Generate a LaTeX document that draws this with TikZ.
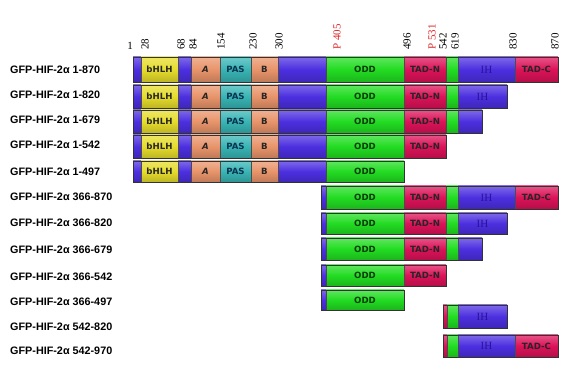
\documentclass[tikz,border=0pt]{standalone}
\usepackage{fontspec}
\setmainfont{Liberation Serif}
\newfontfamily\lblfont{Liberation Sans}
\newfontfamily\segfont{DejaVu Sans}
\definecolor{cblue}{HTML}{4C2FE0}
\definecolor{cyel}{HTML}{E6DC2C}
\definecolor{csal}{HTML}{E8946A}
\definecolor{cteal}{HTML}{38B4B4}
\definecolor{cgreen}{HTML}{22DC22}
\definecolor{cred}{HTML}{DC1258}
\definecolor{ctick}{HTML}{E02828}
\tikzset{
  seg/.style={draw=black!70, line width=0.4pt, top color=#1!72!white, bottom color=#1!82!black, middle color=#1},
  seglab/.style={font=\segfont\bfseries\fontsize{8.6}{8.6}\selectfont, inner sep=0pt, text=black!85},
  ihlab/.style={font=\fontsize{11}{11}\selectfont, text={rgb,255:red,40;green,20;blue,150}},
  rowlab/.style={font=\lblfont\bfseries\fontsize{10.8}{12}\selectfont, anchor=west, inner sep=0pt},
  ticklab/.style={font=\fontsize{11}{11}\selectfont, rotate=90, anchor=west, inner sep=0pt},
  rowline/.style={draw=black!80, line width=0.7pt},
}
\newcommand\sg[5]{%
  \path[seg=#3] (#1,\rt) rectangle (#2,\rb);
  \node[seglab,#5] at ({(#1+#2)/2},{(\rt+\rb)/2}) {#4};}
\newcommand\partN{%
  \sg{133}{141}{cblue}{}{}
  \sg{141}{178}{cyel}{bHLH}{}
  \sg{178}{191}{cblue}{}{}
  \sg{191}{220}{csal}{\itshape A}{}
  \sg{220}{251}{cteal}{PAS}{text={rgb,255:red,10;green,50;blue,80}}
  \sg{251}{278}{csal}{B}{}
  \sg{278}{326}{cblue}{}{}}
\newcommand\partODD{\sg{326}{404}{cgreen}{ODD}{text={rgb,255:red,10;green,60;blue,10}}}
\newcommand\partTADN{\sg{404}{446}{cred}{TAD-N}{}}
\newcommand\partG{\sg{446}{458}{cgreen}{}{}}
\newcommand\partIHf{\sg{458}{515}{cblue}{IH}{ihlab}}
\newcommand\partIHs{\sg{458}{507}{cblue}{IH}{ihlab}}
\newcommand\partTADC{\sg{515}{558}{cred}{TAD-C}{}}
\newcommand\partS{\sg{321}{326}{cblue}{}{}}
\begin{document}
\begin{tikzpicture}[x=1pt,y=-1pt]
\useasboundingbox (0,0) rectangle (566,366);
\fill[white] (0,0) rectangle (566,366);
% tick labels
\node[font=\fontsize{11}{11}\selectfont, anchor=south, inner sep=0pt] (t1) at (130,50) {1};
\node[ticklab] (t28) at (145,50) {28};
\node[ticklab] (t68) at (181,50) {68};
\node[ticklab] (t84) at (193,50) {84};
\node[ticklab] (t154) at (221,50) {154};
\node[ticklab] (t230) at (253,50) {230};
\node[ticklab] (t300) at (279,50) {300};
\node[ticklab,text=ctick] (t405) at (337,50) {P 405};
\node[ticklab] (t496) at (407,50) {496};
\node[ticklab,text=ctick] (t531) at (432,50) {P 531};
\node[ticklab] (t542) at (443,50) {542};
\node[ticklab] (t619) at (455,50) {619};
\node[ticklab] (t830) at (513,50) {830};
\node[ticklab] (t870) at (555,50) {870};
% row labels
\node[rowlab] (l1) at (10,70) {GFP-HIF-2α 1-870};
\node[rowlab] (l2) at (10,95) {GFP-HIF-2α 1-820};
\node[rowlab] (l3) at (10,120) {GFP-HIF-2α 1-679};
\node[rowlab] (l4) at (10,145) {GFP-HIF-2α 1-542};
\node[rowlab] (l5) at (10,172) {GFP-HIF-2α 1-497};
\node[rowlab] (l6) at (10,197) {GFP-HIF-2α 366-870};
\node[rowlab] (l7) at (10,223) {GFP-HIF-2α 366-820};
\node[rowlab] (l8) at (10,250) {GFP-HIF-2α 366-679};
\node[rowlab] (l9) at (10,277) {GFP-HIF-2α 366-542};
\node[rowlab] (l10) at (10,302) {GFP-HIF-2α 366-497};
\node[rowlab] (l11) at (10,327) {GFP-HIF-2α 542-820};
\node[rowlab] (l12) at (10,351) {GFP-HIF-2α 542-970};
% row 1
\def\rt{57}\def\rb{82}
\partN\partODD\partTADN\partG\partIHf\partTADC
\draw[rowline] (133,\rt) rectangle (558,\rb);
% row 2
\def\rt{85}\def\rb{108}
\partN\partODD\partTADN\partG\partIHs
\draw[rowline] (133,\rt) rectangle (507,\rb);
% row 3
\def\rt{110}\def\rb{133}
\partN\partODD\partTADN\partG\sg{458}{482}{cblue}{}{}
\draw[rowline] (133,\rt) rectangle (482,\rb);
% row 4
\def\rt{135}\def\rb{158}
\partN\partODD\partTADN
\draw[rowline] (133,\rt) rectangle (446,\rb);
% row 5
\def\rt{161}\def\rb{182}
\partN\partODD
\draw[rowline] (133,\rt) rectangle (404,\rb);
% row 6
\def\rt{186}\def\rb{209}
\partS\partODD\partTADN\partG\partIHf\partTADC
\draw[rowline] (321,\rt) rectangle (558,\rb);
% row 7
\def\rt{213}\def\rb{234}
\partS\partODD\partTADN\partG\partIHs
\draw[rowline] (321,\rt) rectangle (507,\rb);
% row 8
\def\rt{238}\def\rb{260}
\partS\partODD\partTADN\partG\sg{458}{482}{cblue}{}{}
\draw[rowline] (321,\rt) rectangle (482,\rb);
% row 9
\def\rt{265}\def\rb{286}
\partS\partODD\partTADN
\draw[rowline] (321,\rt) rectangle (446,\rb);
% row 10
\def\rt{290}\def\rb{310}
\partS\partODD
\draw[rowline] (321,\rt) rectangle (404,\rb);
% row 11
\def\rt{305}\def\rb{328}
\sg{443}{447}{cred}{}{}\sg{447}{458}{cgreen}{}{}\partIHs
\draw[rowline] (443,\rt) rectangle (507,\rb);
% row 12
\def\rt{335}\def\rb{357}
\sg{443}{447}{cred}{}{}\sg{447}{458}{cgreen}{}{}\partIHf\partTADC
\draw[rowline] (443,\rt) rectangle (558,\rb);
\end{tikzpicture}
\end{document}
